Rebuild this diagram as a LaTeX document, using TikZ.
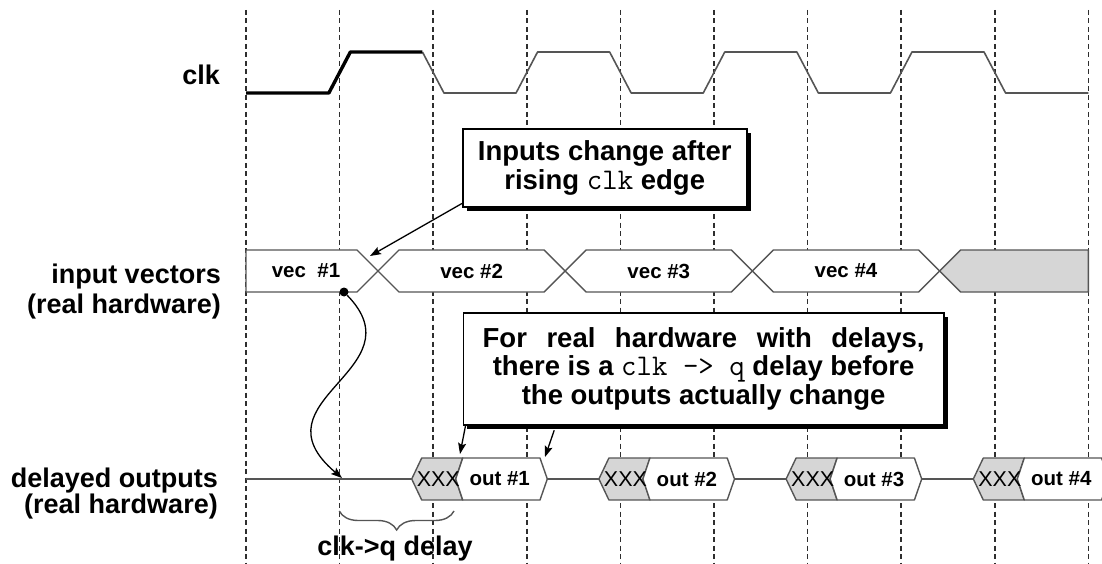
\documentclass[tikz,border=0pt]{standalone}
\usepackage{fontspec}
\setmainfont{Liberation Sans}
\usetikzlibrary{arrows.meta,shadows,decorations.pathreplacing}

\definecolor{wave}{HTML}{555555}
\definecolor{gridc}{HTML}{2E2E2E}
\definecolor{xfill}{HTML}{D6D6D6}

% monospaced signal names inside the callouts
\newcommand\code[1]{{\fontsize{30}{28.5}\selectfont\mdseries\ttfamily #1}}

\tikzset{
  gridline/.style={gridc, line width=1.7pt, dash pattern=on 5pt off 3.5pt},
  thinwave/.style={wave, line width=1.6pt, line join=round},
  thickwave/.style={black, line width=3.4pt, line join=round},
  busbox/.style={draw=wave, line width=1.4pt, fill=white, line join=round},
  xbox/.style={draw=wave, line width=1.4pt, fill=xfill, line join=round},
  busl/.style={font=\fontsize{20.5}{22}\selectfont\bfseries, inner sep=0pt},
  xxl/.style={font=\fontsize{21.5}{22}\selectfont, inner sep=0pt},
  rowlabel/.style={font=\fontsize{27}{30}\selectfont\bfseries, inner sep=0pt, anchor=base east},
  note/.style={draw=black, line width=1.6pt, fill=white, align=center, inner sep=0pt,
    font=\fontsize{27.5}{28.5}\selectfont\bfseries,
    drop shadow={fill=black, opacity=1, shadow xshift=4pt, shadow yshift=-4pt}},
  pointer/.style={black, line width=1.3pt, -{Stealth[length=11pt,width=8pt,inset=2pt]}},
}

\begin{document}
\begin{tikzpicture}[x=1pt,y=-1pt]
\useasboundingbox (0,0) rectangle (1102,564);
\clip (0,0) rectangle (1102,564);

% time grid
\foreach \k in {0,...,9}
  \draw[gridline] (246+93.6*\k,10) -- (246+93.6*\k,564);

% clock waveform (first cycle emphasised)
\draw[thinwave] (422.45,52) -- (443.95,93) -- (516.05,93) -- (537.55,52) -- (609.65,52)
  -- (631.15,93) -- (703.25,93) -- (724.75,52) -- (796.85,52) -- (818.35,93)
  -- (890.45,93) -- (911.95,52) -- (984.05,52) -- (1005.55,93) -- (1088.4,93);
\draw[thickwave] (246,93) -- (328.85,93) -- (350.35,52) -- (422.45,52);

% input vector bus
\draw[busbox] (246,250) -- (357,250) -- (378,271) -- (357,292) -- (246,292) -- cycle;
\foreach \a in {378,565.2,752.4}
  \draw[busbox] (\a,271) -- (\a+21,250) -- (\a+166.2,250) -- (\a+187.2,271)
    -- (\a+166.2,292) -- (\a+21,292) -- cycle;
\draw[xbox] (939.6,271) -- (960.6,250) -- (1088.4,250) -- (1088.4,292) -- (960.6,292) -- cycle;

\node[busl] (v1) at (306,271) {vec\ \ \#1};
\node[busl] (v2) at (471.6,271) {vec \#2};
\node[busl] (v3) at (658.8,271) {vec \#3};
\node[busl] (v4) at (846,271) {vec \#4};

% delayed output bus
\draw[thinwave] (246,479) -- (411.7,479) (547.3,479) -- (598.9,479)
  (734.5,479) -- (786.1,479) (921.7,479) -- (973.3,479);
\foreach \x [count=\m] in {411.7,598.9,786.1,973.3} {
  \draw[xbox] (\x,479) -- (\x+10,458) -- (\x+51,458) -- (\x+44,479) -- (\x+51,500)
    -- (\x+10,500) -- cycle;
  \draw[busbox] (\x+51,458) -- (\x+128.3,458) -- (\x+135.6,479) -- (\x+128.3,500)
    -- (\x+51,500) -- (\x+44,479) -- cycle;
  \node[xxl] (xx\m) at (\x+26.6,479) {XXX};
  \node[busl] (out\m) at (\x+88,479) {out \#\m};
}

% row labels
\node[rowlabel] (lclk) at (220,85) {clk};
\node[rowlabel] (lin1) at (221,283) {input vectors};
\node[rowlabel] (lin2) at (221,313) {(real hardware)};
\node[rowlabel] (lout1) at (218,487) {delayed outputs};
\node[rowlabel] (lout2) at (218,513) {(real hardware)};

% clock-to-output causality
\node[circle, fill=black, inner sep=0pt, minimum size=9pt] (dot) at (344,292) {};
\coordinate (q1) at (342,478);
\draw[pointer] (dot) .. controls +(76,78) and +(-92,-78) .. (q1);

% clk->q delay brace
\coordinate (bl) at (339.3,511);
\coordinate (br) at (454,511);
\draw[wave, line width=1.4pt, decorate, decoration={brace, mirror, amplitude=19pt}] (bl) -- (br);
\node[anchor=base, inner sep=0pt, font=\fontsize{27}{30}\selectfont\bfseries] (delay) at (395,555) {clk->q delay};

% callouts
\node[note, minimum width=284pt, minimum height=77.7pt] (note1) at (604.7,167.85)
  {Inputs change after\\ rising \code{clk} edge};
\coordinate (tipA) at (370,256);
\draw[pointer] ([yshift=4pt]note1.south west) -- (tipA);

\node[note, minimum width=480.7pt, minimum height=112.3pt] (note2) at (703.65,368.85)
  {\makebox[442pt][s]{For real hardware with delays,}\\
   there is a \code{clk -> q} delay before\\
   the outputs actually change};
\coordinate (tipB) at (460,454);
\coordinate (tipC) at (545,457);
\draw[pointer] ([xshift=3pt]note2.south west) -- (tipB);
\draw[pointer] ([xshift=91.7pt,yshift=-4.5pt]note2.south west) -- (tipC);
\end{tikzpicture}
\end{document}
